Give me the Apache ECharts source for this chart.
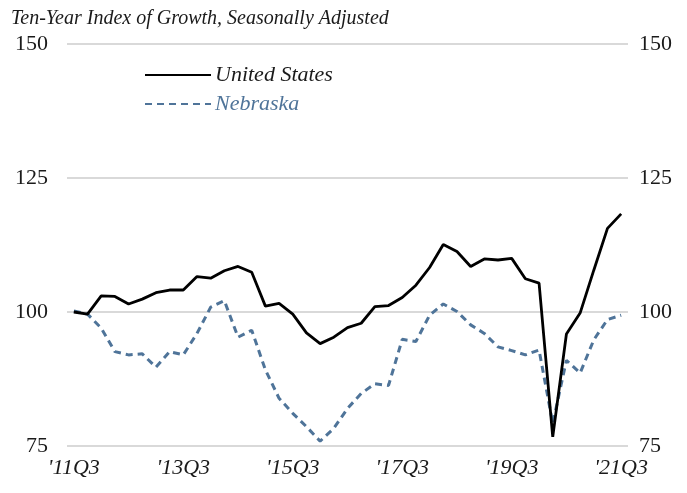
<!DOCTYPE html>
<html>
<head>
<meta charset="utf-8">
<script src="https://cdn.jsdelivr.net/npm/echarts@6/dist/echarts.min.js"></script>
<style>
  html, body { margin: 0; padding: 0; background: #fff; }
  #chart { width: 687px; height: 493px; }
</style>
</head>
<body>
<div id="chart"></div>
<script>
// Quarterly periods, 2011Q3 through 2021Q3
const quarters = [];
for (let y = 2011, q = 3; quarters.length < 41; ) {
  quarters.push(String(y) + 'Q' + q);
  q++;
  if (q > 4) { q = 1; y++; }
}

// Index of growth (2011Q3 = 100), seasonally adjusted
const unitedStates = [
  100.0, 99.6, 103.0, 102.9, 101.5, 102.4, 103.6, 104.1, 104.1, 106.6,
  106.3, 107.7, 108.5, 107.4, 101.1, 101.6, 99.6, 96.1, 94.1, 95.3,
  97.1, 97.9, 101.0, 101.2, 102.7, 105.0, 108.3, 112.6, 111.3, 108.5,
  109.9, 109.7, 110.0, 106.2, 105.4, 76.7, 95.9, 99.8, 107.8, 115.6,
  118.3
];
const nebraska = [
  100.2, 99.6, 97.0, 92.6, 92.0, 92.2, 89.7, 92.6, 92.0, 96.0,
  100.9, 102.1, 95.3, 96.6, 89.2, 83.9, 81.1, 78.6, 75.9, 78.3,
  82.0, 84.8, 86.6, 86.3, 94.9, 94.5, 99.4, 101.5, 100.1, 97.6,
  96.0, 93.5, 92.8, 92.0, 92.9, 79.2, 91.0, 88.6, 94.8, 98.6,
  99.4
];

const yTicks = { min: 75, max: 150, interval: 25 };
const titleText = 'Ten-Year Index of Growth, Seasonally Adjusted';
const usColor = '#000000';
const neColor = '#4f7499';
const serif = '"Liberation Serif", "DejaVu Serif", serif';

// Short labels such as '11Q3, shown every eighth quarter
function shortLabel(v) {
  return "'" + v.slice(2);
}

const axisLabelStyle = {
  fontFamily: serif,
  fontSize: 22,
  color: '#1a1a1a'
};

const chart = echarts.init(document.getElementById('chart'));
chart.setOption({
  animation: false,
  backgroundColor: '#ffffff',
  title: {
    text: titleText,
    left: 6,
    top: 4,
    textStyle: {
      fontFamily: serif,
      fontStyle: 'italic',
      fontWeight: 'normal',
      fontSize: 20,
      color: '#1a1a1a'
    }
  },
  legend: {
    orient: 'vertical',
    left: 139,
    top: 59,
    itemWidth: 66,
    itemHeight: 14,
    itemGap: 7,
    itemStyle: { opacity: 0 },
    textStyle: {
      fontFamily: serif,
      fontStyle: 'italic',
      fontSize: 22,
      padding: [0, 0, 0, -1]
    },
    data: [
      { name: 'United States', textStyle: { color: '#1a1a1a' } },
      { name: 'Nebraska', textStyle: { color: neColor } }
    ]
  },
  grid: {
    left: 67,
    right: 59,
    top: 44,
    bottom: 47,
    containLabel: false
  },
  xAxis: {
    type: 'category',
    data: quarters,
    boundaryGap: true,
    axisLine: { show: false },
    axisTick: { show: false },
    splitLine: { show: false },
    axisLabel: Object.assign({}, axisLabelStyle, {
      fontStyle: 'italic',
      margin: 11,
      interval: 7,
      formatter: shortLabel
    })
  },
  yAxis: [
    {
      type: 'value',
      position: 'left',
      min: yTicks.min,
      max: yTicks.max,
      interval: yTicks.interval,
      axisLine: { show: false },
      axisTick: { show: false },
      axisLabel: Object.assign({}, axisLabelStyle, { margin: 19 }),
      splitLine: { show: true, lineStyle: { color: '#d9d9d9', width: 2 } }
    },
    {
      type: 'value',
      position: 'right',
      min: yTicks.min,
      max: yTicks.max,
      interval: yTicks.interval,
      axisLine: { show: false },
      axisTick: { show: false },
      axisLabel: Object.assign({}, axisLabelStyle, { margin: 11 }),
      splitLine: { show: false }
    }
  ],
  series: [
    {
      name: 'Nebraska',
      type: 'line',
      data: nebraska,
      yAxisIndex: 0,
      symbol: 'none',
      smooth: false,
      z: 2,
      lineStyle: { color: neColor, width: 3, type: [7, 5] },
      itemStyle: { color: neColor }
    },
    {
      name: 'United States',
      type: 'line',
      data: unitedStates,
      yAxisIndex: 0,
      symbol: 'none',
      smooth: false,
      z: 3,
      lineStyle: { color: usColor, width: 2.8 },
      itemStyle: { color: usColor }
    }
  ]
});
</script>
</body>
</html>
